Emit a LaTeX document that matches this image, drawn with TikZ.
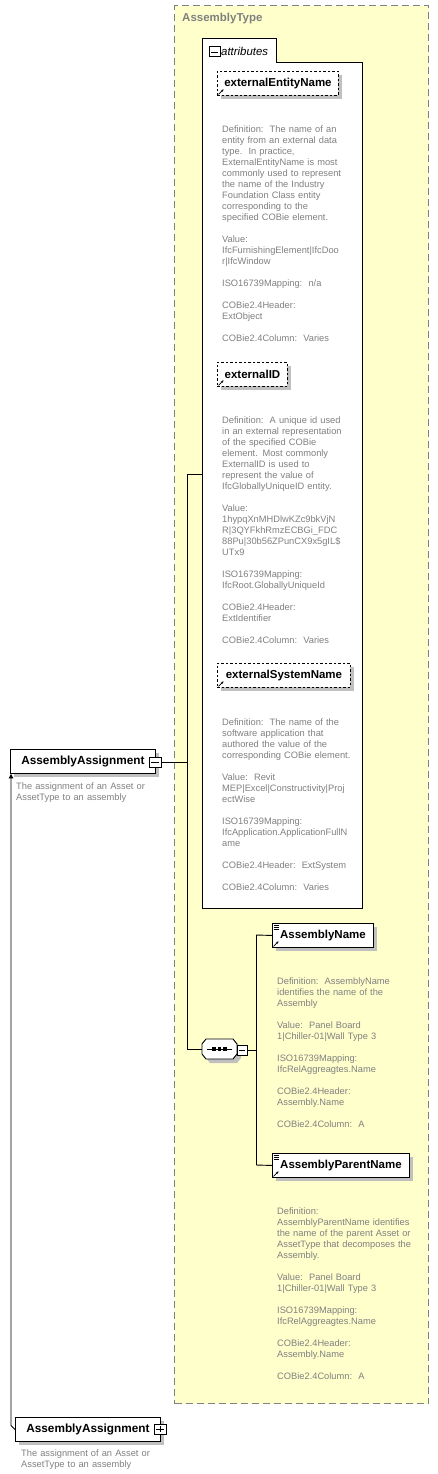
\documentclass[tikz,border=0pt]{standalone}
\usepackage{fontspec}
\setmainfont{Liberation Sans}
\usetikzlibrary{arrows.meta,shadows}
\definecolor{bgyellow}{HTML}{FFFFCC}
\definecolor{dashgray}{HTML}{808080}
\definecolor{txtgray}{HTML}{808080}
\definecolor{shgray}{HTML}{C0C0C0}
\newcommand{\descfont}{\fontsize{9.3}{11}\selectfont}
\newcommand{\lblfont}{\fontsize{11.5}{13}\selectfont\bfseries}
\newcommand{\refarrow}[1]{\draw[line width=0.7pt,-{Stealth[length=2.6pt,width=2.6pt]}] ([shift={(1.5pt,1.5pt)}]#1.south west) -- ++(5pt,5pt);}
\newcommand{\elemicon}[1]{\foreach \i in {2,4,6}{\draw[line width=0.6pt] ([shift={(1.5pt,-\i pt)}]#1.north west) -- ++(5pt,0pt);}}
\tikzset{
  conn/.style={draw=black, line width=0.9pt},
  shad/.style={general shadow={fill=shgray, shadow xshift=4pt, shadow yshift=-4pt}},
  attbox/.style={draw, dash pattern=on 2.5pt off 2pt, line width=0.9pt, fill=white, anchor=north west, minimum height=24pt, inner sep=0pt, font=\lblfont, shad},
  elembox/.style={draw, line width=0.9pt, fill=white, anchor=north west, minimum height=24pt, inner sep=0pt, font=\lblfont, shad},
  desc/.style={anchor=north west, inner sep=0pt, align=left, text width=170pt, text=txtgray, font=\descfont},
  mbox/.style={draw, fill=white, line width=1pt, minimum width=11pt, minimum height=10pt, inner sep=0pt,
    path picture={\draw[line width=0.8pt] ([xshift=2pt]path picture bounding box.west) -- ([xshift=-2pt]path picture bounding box.east);}},
  pbox/.style={draw, fill=white, line width=1pt, minimum width=11pt, minimum height=10pt, inner sep=0pt,
    path picture={\draw[line width=0.8pt] ([xshift=2pt]path picture bounding box.west) -- ([xshift=-2pt]path picture bounding box.east);
      \draw[line width=0.8pt] ([yshift=-2pt]path picture bounding box.north) -- ([yshift=2pt]path picture bounding box.south);}},
}
\begin{document}
\begin{tikzpicture}[x=1pt,y=-1pt]
\useasboundingbox (0,0) rectangle (438,1474);

% AssemblyType container
\node[draw=dashgray, line width=1.3pt, dash pattern=on 7pt off 4pt, fill=bgyellow, minimum width=254pt, minimum height=1398pt, anchor=north west, inner sep=0pt] (atype) at (174,5) {};
\node[anchor=west, text=txtgray, font=\lblfont, inner sep=0pt] (atypeL) at (182,19) {AssemblyType};

% attributes group
\draw[fill=white, line width=0.9pt] (202,38) -- (276,38) -- (276,62) -- (362,62) -- (362,908) -- (202,908) -- cycle;
\coordinate (attrW) at (202,474);
\node[mbox] (attrm) at (214.5,52) {};
\node[anchor=west, font=\fontsize{11.4}{13}\selectfont\itshape, inner sep=0pt] (attrL) at (221,51) {attributes};

\node[attbox, minimum width=121pt] (een) at (217,71) {externalEntityName};
\refarrow{een}
\node[desc] (d1) at (222,124.7) {\strut Definition:\ \ The name of an\\
entity from an external data\\
type.\ \ In practice,\\
ExternalEntityName is most\\
commonly used to represent\\
the name of the Industry\\
Foundation Class entity\\
corresponding to the\\
specified COBie element.\\[11pt]
Value:\\
IfcFurnishingElement|IfcDoo\\
r|IfcWindow\\[11pt]
ISO16739Mapping:\ \ n/a\\[11pt]
COBie2.4Header:\\
ExtObject\\[11pt]
COBie2.4Column:\ \ Varies};

\node[attbox, minimum width=70pt] (eid) at (217,362) {externalID};
\refarrow{eid}
\node[desc] (d2) at (222,415.7) {\strut Definition:\ \ A unique id used\\
in an external representation\\
of the specified COBie\\
element. Most commonly\\
ExternalID is used to\\
represent the value of\\
IfcGloballyUniqueID entity.\\[11pt]
Value:\\
1hypqXnMHDlwKZc9bkVjN\\
R|3QYFkhRmzECBGi\_FDC\\
88Pu|30b56ZPunCX9x5gIL\$\\
UTx9\\[11pt]
ISO16739Mapping:\\
IfcRoot.GloballyUniqueId\\[11pt]
COBie2.4Header:\\
ExtIdentifier\\[11pt]
COBie2.4Column:\ \ Varies};

\node[attbox, minimum width=133pt] (esn) at (217,663) {externalSystemName};
\refarrow{esn}
\node[desc] (d3) at (222,717.7) {\strut Definition:\ \ The name of the\\
software application that\\
authored the value of the\\
corresponding COBie element.\\[11pt]
Value:\ \ Revit\\
MEP|Excel|Constructivity|Proj\\
ectWise\\[11pt]
ISO16739Mapping:\\
IfcApplication.ApplicationFullN\\
ame\\[11pt]
COBie2.4Header:\ \ ExtSystem\\[11pt]
COBie2.4Column:\ \ Varies};

% sequence compositor
\node[minimum width=35pt, minimum height=20pt, inner sep=0pt] (seq) at (219.5,1049) {};
\draw[fill=white, line width=0.9pt, shad] (206,1039) -- (233,1039) -- (237,1044) -- (237,1054) -- (233,1059) -- (206,1059) -- (202,1054) -- (202,1044) -- cycle;
\draw[line width=0.9pt] ([xshift=5pt]seq.west) -- ([xshift=-5pt]seq.east);
\foreach \dx in {-5.5,0,5.5}{\fill ([shift={(\dx pt,0pt)}]seq.center) +(-1.6pt,-1.6pt) rectangle +(1.6pt,1.6pt);}
\node[mbox, minimum width=10pt] (seqm) at (242,1050) {};

% elements
\node[elembox, minimum width=101pt] (an) at (272,923) {AssemblyName};
\refarrow{an}
\elemicon{an}
\node[desc] (d4) at (277,976.7) {\strut Definition:\ \ AssemblyName\\
identifies the name of the\\
Assembly\\[11pt]
Value:\ \ Panel Board\\
1|Chiller-01|Wall Type 3\\[11pt]
ISO16739Mapping:\\
IfcRelAggreagtes.Name\\[11pt]
COBie2.4Header:\\
Assembly.Name\\[11pt]
COBie2.4Column:\ \ A};

\node[elembox, minimum width=137pt] (apn) at (272,1153) {AssemblyParentName};
\refarrow{apn}
\elemicon{apn}
\node[desc] (d5) at (277,1206.7) {\strut Definition:\\
AssemblyParentName identifies\\
the name of the parent Asset or\\
AssetType that decomposes the\\
Assembly.\\[11pt]
Value:\ \ Panel Board\\
1|Chiller-01|Wall Type 3\\[11pt]
ISO16739Mapping:\\
IfcRelAggreagtes.Name\\[11pt]
COBie2.4Header:\\
Assembly.Name\\[11pt]
COBie2.4Column:\ \ A};

% AssemblyAssignment (top)
\node[elembox, minimum width=145pt, font=\fontsize{11.8}{13}\selectfont\bfseries] (aat) at (10,749) {AssemblyAssignment\hspace{4pt}};
\node[mbox, minimum width=12pt] (aatm) at (155,762) {};
\node[desc] (aatd) at (16,781.7) {\strut The assignment of an Asset or\\ AssetType to an assembly};

% AssemblyAssignment (bottom)
\node[elembox, minimum width=145pt, font=\fontsize{11.8}{13}\selectfont\bfseries] (aab) at (15,1417) {AssemblyAssignment\hspace{4pt}};
\node[pbox, minimum width=12pt] (aabp) at (160,1429) {};
\node[desc] (aabd) at (21,1448.7) {\strut The assignment of an Asset or\\ AssetType to an assembly};

% connectors
\coordinate (j1) at (187,474);
\coordinate (j2) at (187,1049);
\coordinate (j3) at (256,935);
\coordinate (j4) at (256,1165);
\draw[conn] (aatm.east) -- (aatm.east -| j1);
\draw[conn] (j1) -- (j2);
\draw[conn] (j1) -- (attrW);
\draw[conn] (j2) -- (seq.west);
\draw[conn] (seqm.east) -- (seqm.east -| j3);
\draw[conn] (j3) -- (j4);
\draw[conn] (j3) -- (an.west);
\draw[conn] (j4) -- (apn.west);
\coordinate (rt) at ([xshift=1pt]aat.south west);
\draw[conn, -{Triangle[length=4.5pt,width=4.5pt]}] (aab.west) -- ([shift={(-4pt,4pt)}]aab.west) -- (rt);
\end{tikzpicture}
\end{document}
